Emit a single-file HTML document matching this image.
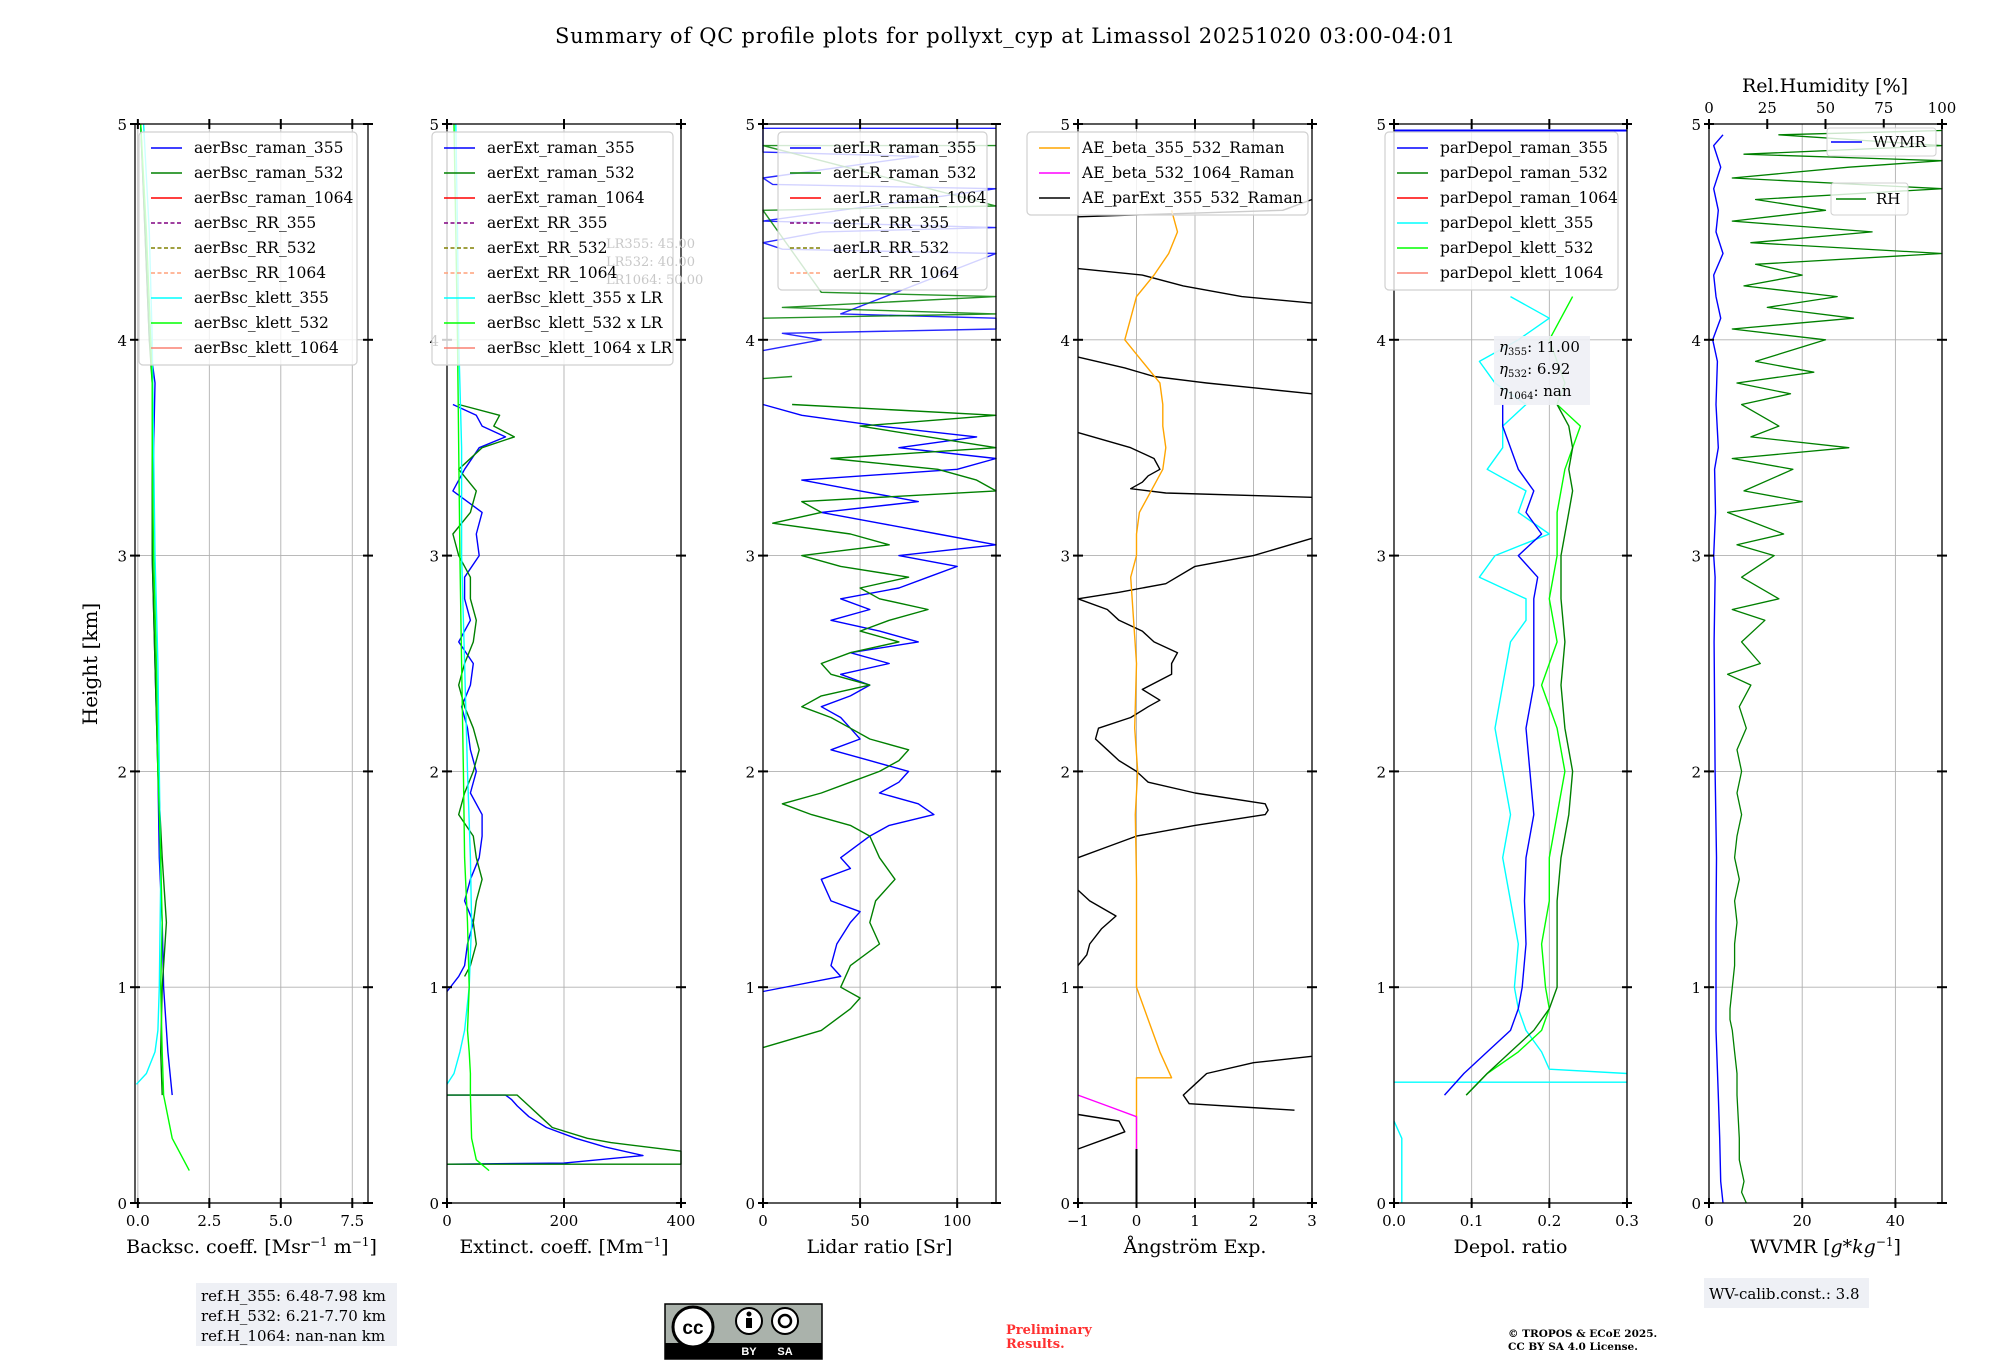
<!DOCTYPE html>
<html><head><meta charset="utf-8">
<style>
html,body{margin:0;padding:0;background:#fff;}
svg{display:block;font-family:"DejaVu Serif","Liberation Serif",serif;}
</style></head>
<body>
<svg id="fig" width="2000" height="1360" viewBox="0 0 2000 1360" xmlns="http://www.w3.org/2000/svg">
<text x="1005" y="43" font-size="21" text-anchor="middle" textLength="900">Summary of QC profile plots for pollyxt_cyp at Limassol 20251020 03:00-04:01</text>
<g id="plots"></g>
<text x="97" y="664" font-size="20" text-anchor="middle" transform="rotate(-90 97 664)">Height [km]</text>
<g>
<rect x="196" y="1283" width="201" height="63" fill="#eef0f5"/>
<text x="201" y="1301" font-size="15">ref.H_355: 6.48-7.98 km</text>
<text x="201" y="1321" font-size="15">ref.H_532: 6.21-7.70 km</text>
<text x="201" y="1341" font-size="15">ref.H_1064: nan-nan km</text>
</g>
<g>
<rect x="665" y="1304" width="157" height="55" fill="#aab2ab" stroke="#000" stroke-width="1.5"/>
<rect x="665" y="1343" width="157" height="16" fill="#000"/>
<circle cx="693" cy="1327" r="20" fill="#fff" stroke="#000" stroke-width="3"/>
<text x="693" y="1334" font-size="19" font-weight="bold" text-anchor="middle" font-family="Liberation Sans,sans-serif">cc</text>
<circle cx="749" cy="1321" r="13" fill="#fff" stroke="#000" stroke-width="2"/>
<circle cx="749" cy="1314" r="2.5" fill="#000"/><rect x="746" y="1318" width="6" height="10" fill="#000"/>
<circle cx="785" cy="1321" r="13" fill="#fff" stroke="#000" stroke-width="2"/>
<circle cx="785" cy="1321" r="6" fill="none" stroke="#000" stroke-width="2.5"/>
<text x="749" y="1355" font-size="11" fill="#fff" text-anchor="middle" font-family="Liberation Sans,sans-serif" font-weight="bold">BY</text>
<text x="785" y="1355" font-size="11" fill="#fff" text-anchor="middle" font-family="Liberation Sans,sans-serif" font-weight="bold">SA</text>
</g>
<text x="1006" y="1334" font-size="13" font-weight="bold" fill="#ff3030">Preliminary</text>
<text x="1006" y="1348" font-size="13" font-weight="bold" fill="#ff3030">Results.</text>
<text x="1508" y="1337" font-size="10.5" font-weight="bold">© TROPOS &amp; ECoE 2025.</text>
<text x="1508" y="1350" font-size="10.5" font-weight="bold">CC BY SA 4.0 License.</text>
<g>
<rect x="1704" y="1278" width="165" height="30" fill="#eef0f5"/>
<text x="1709" y="1299" font-size="15">WV-calib.const.: 3.8</text>
</g>
</svg>
<script>
// ---------- data ----------
const bscH = [0.15,0.3,0.5,0.7,1.0,1.3,1.6,2.0,2.5,3.0,3.5,3.8,4.0,4.5,5.0];
const bscRaman355 = [null,null,1.2,1.05,0.9,0.85,0.75,0.7,0.6,0.5,0.55,0.6,0.4,0.25,0.1];
const bscRaman532 = [null,null,0.85,0.8,0.85,1.0,0.85,0.7,0.6,0.5,0.5,0.5,0.4,0.25,0.1];
const bscKlett355H = [0.55,0.6,0.7,0.8,1.0,1.5,2.0,2.5,3.0,3.5,4.0,4.5,5.0];
const bscKlett355 = [-0.05,0.3,0.6,0.7,0.75,0.8,0.75,0.7,0.6,0.55,0.5,0.4,0.2];
const bscKlett532 = [1.8,1.2,0.9,0.85,0.8,0.85,0.8,0.7,0.65,0.55,0.5,0.5,0.45,0.3,0.1];

const extH355 = [0.18,0.185,0.22,0.26,0.3,0.35,0.4,0.45,0.48,0.5,0.5];
const ext355Low = [0,200,335,270,220,170,140,120,110,100,0];
const extH532 = [0.18,0.18,0.24,0.28,0.3,0.35,0.4,0.45,0.5,0.5];
const ext532Low = [0,400,400,280,240,180,160,140,120,0];
const extHUp = [0.98,1.05,1.1,1.2,1.3,1.4,1.5,1.6,1.7,1.8,1.9,2.0,2.1,2.2,2.3,2.4,2.5,2.6,2.7,2.8,2.9,3.0,3.1,3.2,3.3,3.4,3.5,3.55,3.6,3.65,3.7];
const ext355Up = [0,20,30,35,45,30,40,55,60,60,40,50,40,35,25,40,45,20,40,30,30,55,50,60,10,30,55,100,60,50,10];
const ext532Up = [null,30,40,50,45,50,60,50,45,20,30,45,55,45,30,20,30,45,50,40,40,20,10,40,50,20,60,115,80,90,20];
const extKlH = [0.15,0.2,0.3,0.5,0.55,0.6,0.7,0.8,1.0,1.3,1.6,2.0,2.5,3.0,3.5,4.0,4.5,5.0];
const extKl355 = [null,null,null,null,0,12,22,30,38,42,40,35,30,25,25,20,18,15];
const extKl532 = [72,50,42,40,40,40,38,35,38,35,30,28,25,22,20,18,15,12];

const lrH = [0.98,1.05,1.1,1.2,1.3,1.35,1.4,1.5,1.55,1.6,1.7,1.75,1.8,1.85,1.9,1.95,2.0,2.05,2.1,2.15,2.2,2.25,2.3,2.35,2.4,2.45,2.5,2.55,2.6,2.65,2.7,2.75,2.8,2.85,2.9,2.95,3.0,3.05,3.1,3.15,3.2,3.25,3.3,3.35,3.4,3.45,3.5,3.55,3.6,3.65,3.7];
const lr355 = [0,40,35,38,45,50,35,30,45,40,55,65,88,80,60,70,75,55,35,50,45,40,30,45,55,40,65,45,80,60,35,55,40,70,85,100,70,120,90,60,30,80,50,20,100,120,70,110,60,20,0];
const lr532H = [0.72,0.8,0.9,0.95,1.0,1.1,1.2,1.3,1.4,1.5,1.6,1.7,1.75,1.8,1.85,1.9,1.95,2.0,2.05,2.1,2.15,2.2,2.25,2.3,2.35,2.4,2.45,2.5,2.55,2.6,2.65,2.7,2.75,2.8,2.85,2.9,2.95,3.0,3.05,3.1,3.15,3.2,3.25,3.3,3.35,3.4,3.45,3.5,3.6,3.65,3.7];
const lr532 = [0,30,45,50,40,45,60,55,58,68,60,55,45,25,10,30,45,60,70,75,55,45,35,20,30,55,35,30,45,70,50,65,85,60,50,75,40,20,65,45,5,30,20,120,110,90,35,120,50,120,15];
const lrHigh355H = [3.95,4.0,4.03,4.05,4.1,4.12,4.4,4.42,4.45,4.5,4.52,4.55,4.7,4.72,4.75,4.85,4.87,4.98,4.98];
const lrHigh355 = [0,30,10,120,120,40,120,10,0,30,120,0,120,5,0,80,0,0,120];
const lrHigh532H = [3.82,3.83,null,4.1,4.12,4.15,4.2,4.22,4.6,4.62,4.9,4.9];
const lrHigh532 = [0,15,null,0,120,10,120,30,0,120,0,120];

const aeBetaH = [0.25,0.58,0.58,0.7,0.85,1.0,1.2,1.5,1.8,2.0,2.2,2.5,2.7,2.9,3.0,3.1,3.2,3.3,3.4,3.5,3.6,3.7,3.8,3.9,4.0,4.1,4.2,4.3,4.4,4.5,4.6];
const aeBeta = [0,0,0.6,0.4,0.2,0,0,0.0,-0.02,0.02,-0.03,0.0,-0.05,-0.1,0,0.0,0.05,0.25,0.45,0.5,0.45,0.45,0.4,0.1,-0.2,-0.1,0.0,0.3,0.55,0.7,0.6];
const ae5321064H = [0.25,0.4,0.45,0.5];
const ae5321064 = [0,0,-0.5,-1];
const aeBlackZeroH = [0.0,0.25];
const aeBlackZero = [0,0];
const aeExtH = [0.25,0.3,0.33,0.38,0.41,null,0.43,0.46,0.5,0.55,0.6,0.65,0.68,null,1.1,1.15,1.2,1.27,1.33,1.4,1.45,null,1.6,1.65,1.7,1.75,1.8,1.82,1.85,1.9,1.95,2.0,2.05,2.1,2.15,2.2,2.25,2.3,2.33,2.38,2.45,2.5,2.55,2.6,2.65,2.7,2.75,2.8,2.83,2.87,2.95,3.0,3.08,null,3.27,3.29,3.31,3.34,3.37,3.4,3.45,3.5,3.57,null,3.75,3.8,3.83,3.87,3.92,null,4.17,4.2,4.25,4.3,4.33,null,4.57,4.6,4.65];
const aeExt = [-1,-0.5,-0.2,-0.3,-1,null,2.7,0.9,0.8,1.0,1.2,2.0,3.0,null,-1,-0.85,-0.8,-0.6,-0.35,-0.8,-1,null,-1,-0.5,0,1.0,2.2,2.25,2.2,1.0,0.2,0,-0.3,-0.5,-0.7,-0.65,-0.1,0.2,0.4,0.1,0.6,0.6,0.7,0.3,0.1,-0.3,-0.5,-1,-0.3,0.5,1.0,2.0,3.0,null,3,0.5,-0.1,0.1,0.2,0.4,0.3,-0.1,-1,null,3,1.2,0.3,-0.2,-1,null,3,1.8,0.8,0.1,-1,null,-1,2.5,3];

const dpH = [0.5,0.6,0.7,0.8,0.9,1.0,1.2,1.4,1.6,1.8,2.0,2.2,2.4,2.6,2.8,2.9,3.0,3.1,3.2,3.3,3.4,3.5,3.6,3.7];
const dpRaman355 = [0.065,0.09,0.12,0.15,0.16,0.165,0.17,0.168,0.17,0.18,0.175,0.17,0.18,0.18,0.18,0.185,0.16,0.19,0.17,0.18,0.16,0.15,0.14,0.14];
const dpRaman532 = [0.093,0.12,0.15,0.18,0.2,0.21,0.21,0.21,0.215,0.225,0.23,0.22,0.215,0.22,0.215,0.215,0.215,0.22,0.225,0.23,0.225,0.23,0.225,0.21];
const dpKl355H = [0.0,0.3,0.38,null,0.56,0.56,null,0.6,0.62,0.7,0.8,0.9,1.0,1.2,1.4,1.6,1.8,2.0,2.2,2.4,2.6,2.7,2.8,2.9,3.0,3.1,3.2,3.3,3.4,3.5,3.6,3.7,3.8,3.9,4.0,4.1,4.2];
const dpKl355 = [0.01,0.01,0.0,null,0.0,0.3,null,0.3,0.2,0.19,0.17,0.16,0.155,0.16,0.15,0.14,0.15,0.14,0.13,0.14,0.15,0.17,0.17,0.11,0.13,0.2,0.16,0.17,0.12,0.14,0.14,0.17,0.13,0.11,0.16,0.2,0.15];
const dpKl532H = [0.5,0.6,0.7,0.8,0.9,1.0,1.2,1.4,1.6,1.8,2.0,2.2,2.4,2.6,2.8,3.0,3.2,3.4,3.6,3.7,3.8,4.0,4.2];
const dpKl532 = [0.093,0.12,0.16,0.19,0.2,0.195,0.19,0.2,0.2,0.21,0.22,0.21,0.19,0.21,0.2,0.21,0.21,0.22,0.24,0.21,0.22,0.2,0.23];
const etaLabels = ["11.00","6.92","nan"];

const wvH = [0.0,0.1,0.3,0.5,0.8,1.0,1.3,1.6,2.0,2.3,2.6,2.9,3.0,3.2,3.4,3.5,3.7,3.9,4.0,4.1,4.2,4.3,4.4,4.5,4.6,4.7,4.8,4.9,4.95];
const wvmr = [3,2.5,2.3,2,1.5,1.5,1.5,1.6,1.3,1.2,1.1,1.3,1.0,1.4,1.2,2.0,1.5,1.8,0.8,2.5,1.5,1.0,3.0,1.5,2.0,1.0,2.5,1.0,3];
const rhH = [0.0,0.05,0.1,0.2,0.3,0.5,0.6,0.7,0.8,0.85,0.9,1.0,1.1,1.2,1.3,1.4,1.5,1.6,1.7,1.8,1.9,2.0,2.1,2.2,2.3,2.4,2.45,2.5,2.6,2.7,2.75,2.8,2.9,3.0,3.05,3.1,3.2,3.25,3.3,3.4,3.45,3.5,3.55,3.6,3.7,3.75,3.8,3.85,3.9,4.0,4.05,4.1,4.15,4.2,4.25,4.3,4.35,4.4,4.45,4.5,4.55,4.6,4.65,4.7,4.75,4.8,4.83,4.86,4.9,4.95,4.97];
const rh = [16,14,15,13,13,12,12,11,10,9,9,10,11,11,12,11,13,11,12,14,12,14,12,16,13,18,8,22,14,24,10,30,14,28,12,32,8,40,15,36,10,60,18,30,14,35,12,45,20,50,10,62,25,55,15,40,20,100,18,70,10,50,20,100,10,60,100,15,100,30,100];

const bscTicks = [0,2.5,5,7.5], bscTickLabels = ["0.0","2.5","5.0","7.5"];
const extTicks = [0,200,400], lrTicks = [0,50,100], aeTicks = [-1,0,1,2,3];
const dpTicks = [0,0.1,0.2,0.3], dpTickLabels = ["0.0","0.1","0.2","0.3"];
const wvTicks = [0,20,40], rhTicks = [0,25,50,75,100];
const hTicks = [0,1,2,3,4,5];

// ---------- drawing ----------
const NS = "http://www.w3.org/2000/svg";
const root = document.getElementById('plots');
const Y0 = 1203, Y1 = 124;
function yS(h){ return Y0 - (h/5)*(Y0-Y1); }
function mk(tag, attrs, parent){
  const e = document.createElementNS(NS, tag);
  for (const k in attrs) e.setAttribute(k, attrs[k]);
  (parent||root).appendChild(e); return e;
}
function makeX(x0,x1,d0,d1){ return v => x0 + (v-d0)/(d1-d0)*(x1-x0); }

function axes(name, x0, x1, xs, ticks, labels, xlabel, g){
  for (const t of ticks){
    const l = mk('line',{x1:xs(t),x2:xs(t),y1:Y1,y2:Y0,stroke:'#b0b0b0','stroke-width':0.9},g);
    
    
  }
  for (const h of hTicks){
    const l = mk('line',{x1:x0,x2:x1,y1:yS(h),y2:yS(h),stroke:'#b0b0b0','stroke-width':0.9},g);
    
    
  }
}
function frame(name, x0, x1, xs, ticks, labels, xlabel, g, topTicks){
  const r = mk('rect',{x:x0,y:Y1,width:x1-x0,height:Y0-Y1,fill:'none',stroke:'#000','stroke-width':1.3},g);
  
  
  ticks.forEach((t,i)=>{
    mk('line',{x1:xs(t),x2:xs(t),y1:Y0-5,y2:Y0+5,stroke:'#000','stroke-width':2},g);
    if (!topTicks) mk('line',{x1:xs(t),x2:xs(t),y1:Y1-5,y2:Y1+5,stroke:'#000','stroke-width':2},g);
    const tx = mk('text',{x:xs(t),y:Y0+23,'font-size':15,'text-anchor':'middle'},g);
    tx.textContent = labels ? labels[i] : (t<0?'\u2212'+(-t):String(t));
    
    
  });
  hTicks.forEach(h=>{
    mk('line',{x1:x0-5,x2:x0+5,y1:yS(h),y2:yS(h),stroke:'#000','stroke-width':2},g);
    mk('line',{x1:x1-5,x2:x1+5,y1:yS(h),y2:yS(h),stroke:'#000','stroke-width':2},g);
    const tx = mk('text',{x:x0-8,y:yS(h)+6,'font-size':15,'text-anchor':'end'},g);
    tx.textContent = String(h);
    
    
  });
  const al = mk('text',{x:(x0+x1)/2,y:1253,'font-size':19,'text-anchor':'middle'},g);
  al.innerHTML = xlabel;
  
  
}
function series(hs, vs, xs, color, name, g, w, op){
  let d = '', pen = false;
  for (let i=0;i<hs.length;i++){
    if (hs[i]===null || vs[i]===null){ pen=false; continue; }
    d += (pen?'L':'M') + xs(vs[i]).toFixed(1) + ' ' + yS(hs[i]).toFixed(1) + ' ';
    pen = true;
  }
  const p = mk('path',{d:d,fill:'none',stroke:color,'stroke-width':w||1.4,'stroke-linejoin':'round',opacity:op||1},g);
  
  
  return p;
}
function legend(name, x, y, w, entries, g, fs){
  const box = mk('rect',{x:x,y:y,width:w,height:entries.length*25+8,rx:4,fill:'#fff','fill-opacity':0.8,stroke:'#d0d0d0','stroke-width':1.2},g);
  
  
  entries.forEach((e,i)=>{
    const yy = y+16+i*25;
    const ln = mk('line',{x1:x+12,x2:x+43,y1:yy,y2:yy,stroke:e[1],'stroke-width':1.6},g);
    if (e[2]) ln.setAttribute('stroke-dasharray','4 2.5');
    
    
    const t = mk('text',{x:x+55,y:yy+5,'font-size':fs||15.5},g);
    t.textContent = e[0];
    
    
  });
}
function panel(name){ const g = mk('g',{});   return g; }

// Panel 1 backscatter
{ const g = panel('backscatter-panel'); const x0=135,x1=368; const xs = makeX(x0,x1,-0.1,8.05);
  axes('bsc',x0,x1,xs,bscTicks,null,'',g);
  series(bscH,bscRaman355,xs,'#0000ff','bsc-raman-355',g);
  series(bscH,bscRaman532,xs,'#008000','bsc-raman-532',g);
  series(bscKlett355H,bscKlett355,xs,'#00ffff','bsc-klett-355',g);
  series(bscH,bscKlett532,xs,'#00ff00','bsc-klett-532',g);
  frame('bsc',x0,x1,xs,bscTicks,bscTickLabels,'Backsc. coeff. [Msr<tspan dy="-7" font-size="12">−1</tspan><tspan dy="7"> m</tspan><tspan dy="-7" font-size="12">−1</tspan><tspan dy="7">]</tspan>',g);
  legend('bsc-legend',139,132,218,[['aerBsc_raman_355','#0000ff'],['aerBsc_raman_532','#008000'],['aerBsc_raman_1064','#ff0000'],['aerBsc_RR_355','#800080',1],['aerBsc_RR_532','#808000',1],['aerBsc_RR_1064','#ffa07a',1],['aerBsc_klett_355','#00ffff'],['aerBsc_klett_532','#00ff00'],['aerBsc_klett_1064','#fa8072']],g);
}
// Panel 2 extinction
{ const g = panel('extinction-panel'); const x0=447,x1=681; const xs = makeX(x0,x1,0,400);
  axes('ext',x0,x1,xs,extTicks,null,'',g);
  series(extH355,ext355Low,xs,'#0000ff','ext-raman-355-low',g);
  series(extH532,ext532Low,xs,'#008000','ext-raman-532-low',g);
  series(extHUp,ext355Up,xs,'#0000ff','ext-raman-355',g);
  series(extHUp,ext532Up,xs,'#008000','ext-raman-532',g);
  series(extKlH,extKl355,xs,'#00ffff','ext-klett-355',g);
  series(extKlH,extKl532,xs,'#00ff00','ext-klett-532',g);
  frame('ext',x0,x1,xs,extTicks,null,'Extinct. coeff. [Mm<tspan dy="-7" font-size="12">−1</tspan><tspan dy="7">]</tspan>',g);
  legend('ext-legend',432,132,241,[['aerExt_raman_355','#0000ff'],['aerExt_raman_532','#008000'],['aerExt_raman_1064','#ff0000'],['aerExt_RR_355','#800080',1],['aerExt_RR_532','#808000',1],['aerExt_RR_1064','#ffa07a',1],['aerBsc_klett_355 x LR','#00ffff'],['aerBsc_klett_532 x LR','#00ff00'],['aerBsc_klett_1064 x LR','#fa8072']],g);
  const lr = mk('g',{fill:'#c8c8c8','font-size':13},g);  
  mk('text',{x:606,y:248},lr).textContent='LR355: 45.00';
  mk('text',{x:606,y:266},lr).textContent='LR532: 40.00';
  mk('text',{x:606,y:284},lr).textContent='LR1064: 50.00';
}
// Panel 3 lidar ratio
{ const g = panel('lidar-ratio-panel'); const x0=763,x1=996; const xs = makeX(x0,x1,0,120);
  axes('lr',x0,x1,xs,lrTicks,null,'',g);
  series(lrH,lr355,xs,'#0000ff','lr-raman-355',g);
  series(lr532H,lr532,xs,'#008000','lr-raman-532',g);
  series(lrHigh355H,lrHigh355,xs,'#0000ff','lr-raman-355-upper',g,1.4,0.85);
  series(lrHigh532H,lrHigh532,xs,'#008000','lr-raman-532-upper',g,1.4,0.85);
  frame('lr',x0,x1,xs,lrTicks,null,'Lidar ratio [Sr]',g);
  legend('lr-legend',778,132,209,[['aerLR_raman_355','#0000ff'],['aerLR_raman_532','#008000'],['aerLR_raman_1064','#ff0000'],['aerLR_RR_355','#800080',1],['aerLR_RR_532','#808000',1],['aerLR_RR_1064','#ffa07a',1]],g);
}
// Panel 4 Angstrom
{ const g = panel('angstrom-panel'); const x0=1078,x1=1312; const xs = makeX(x0,x1,-1,3);
  axes('ae',x0,x1,xs,aeTicks,null,'',g);
  series(aeExtH,aeExt,xs,'#000000','ae-parext-355-532',g);
  series(aeBetaH,aeBeta,xs,'#ffa500','ae-beta-355-532',g);
  series(ae5321064H,ae5321064,xs,'#ff00ff','ae-beta-532-1064',g);
  series(aeBlackZeroH,aeBlackZero,xs,'#000000','ae-zero-segment',g,2);
  frame('ae',x0,x1,xs,aeTicks,null,'Ångström Exp.',g);
  legend('ae-legend',1027,132,281,[['AE_beta_355_532_Raman','#ffa500'],['AE_beta_532_1064_Raman','#ff00ff'],['AE_parExt_355_532_Raman','#000000']],g);
}
// Panel 5 depol
{ const g = panel('depol-panel'); const x0=1394,x1=1627; const xs = makeX(x0,x1,0,0.3);
  axes('dp',x0,x1,xs,dpTicks,null,'',g);
  series(dpKl355H,dpKl355,xs,'#00ffff','depol-klett-355',g);
  series(dpKl532H,dpKl532,xs,'#00ff00','depol-klett-532',g);
  series(dpH,dpRaman532,xs,'#008000','depol-raman-532',g);
  series(dpH,dpRaman355,xs,'#0000ff','depol-raman-355',g);
  mk('line',{x1:x0,x2:x1,y1:yS(4.97),y2:yS(4.97),stroke:'#0000ff','stroke-width':2},g);
  frame('dp',x0,x1,xs,dpTicks,dpTickLabels,'Depol. ratio',g);
  legend('depol-legend',1385,132,233,[['parDepol_raman_355','#0000ff'],['parDepol_raman_532','#008000'],['parDepol_raman_1064','#ff0000'],['parDepol_klett_355','#00ffff'],['parDepol_klett_532','#00ff00'],['parDepol_klett_1064','#fa8072']],g);
  const eb = mk('g',{},g);  
  mk('rect',{x:1494,y:336,width:96,height:69,fill:'#eef0f5','fill-opacity':0.9},eb);
  const subs=['355','532','1064'];
  etaLabels.forEach((v,i)=>{ const t = mk('text',{x:1499,y:352+i*22,'font-size':15},eb);
    t.innerHTML = '<tspan font-style="italic">η</tspan><tspan font-size="10" dy="3">'+subs[i]+'</tspan><tspan dy="-3">: '+v+'</tspan>'; });
}
// Panel 6 WV
{ const g = panel('water-vapor-panel'); const x0=1709,x1=1942; const xs = makeX(x0,x1,0,50); const xr = makeX(x0,x1,0,100);
  axes('wv',x0,x1,xs,wvTicks,null,'',g);
  series(rhH,rh,xr,'#008000','rh-profile',g,1.3);
  series(wvH,wvmr,xs,'#0000ff','wvmr-profile',g,1.4);
  frame('wv',x0,x1,xs,wvTicks,null,'WVMR [<tspan font-style="italic">g</tspan>*<tspan font-style="italic">kg</tspan><tspan dy="-7" font-size="12">−1</tspan><tspan dy="7">]</tspan>',g,true);
  rhTicks.forEach(t=>{ mk('line',{x1:xr(t),x2:xr(t),y1:Y1-5,y2:Y1+5,stroke:'#000','stroke-width':2},g);
    const tx = mk('text',{x:xr(t),y:Y1-11,'font-size':15,'text-anchor':'middle'},g); tx.textContent=String(t);
    
     });
  const tt = mk('text',{x:1825,y:92,'font-size':19,'text-anchor':'middle'},g); tt.textContent='Rel.Humidity [%]';
  
  
  mk('rect',{x:1827,y:128,width:109,height:28,rx:3,fill:'#fff','fill-opacity':0.8,stroke:'#d0d0d0'},g);
  mk('line',{x1:1831,x2:1862,y1:142,y2:142,stroke:'#0000ff','stroke-width':1.6},g);
  mk('text',{x:1873,y:147,'font-size':15},g).textContent='WVMR';
  mk('rect',{x:1831,y:183,width:77,height:32,rx:3,fill:'#fff','fill-opacity':0.8,stroke:'#d0d0d0'},g);
  mk('line',{x1:1836,x2:1866,y1:199,y2:199,stroke:'#008000','stroke-width':1.6},g);
  mk('text',{x:1876,y:204,'font-size':15},g).textContent='RH';
}
</script>
</body></html>
